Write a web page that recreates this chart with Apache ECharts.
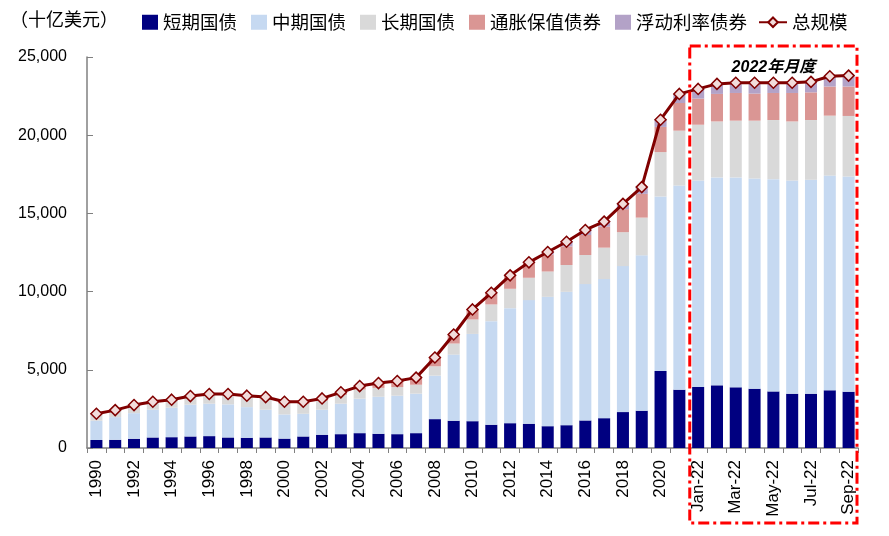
<!DOCTYPE html>
<html><head><meta charset="utf-8">
<script src="https://cdn.jsdelivr.net/npm/echarts@6/dist/echarts.min.js"></script>
<style>html,body{margin:0;padding:0;background:#fff}#c{width:889px;height:536px}</style>
</head><body><div id="c"></div>
<script>
var categories = ['1990','1991','1992','1993','1994','1995','1996','1997','1998','1999',
'2000','2001','2002','2003','2004','2005','2006','2007','2008','2009',
'2010','2011','2012','2013','2014','2015','2016','2017','2018','2019','2020','2021',
'Jan-22','Feb-22','Mar-22','Apr-22','May-22','Jun-22','Jul-22','Aug-22','Sep-22'];
var bills = [513,525,590,673,692,737,760,673,654,673,600,737,846,885,950,910,885,950,1846,1743,1718,1487,1590,1551,1397,1461,1763,1910,2295,2384,4920,3730,3900,4006,3880,3790,3620,3470,3470,3690,3600];
var notes = [1230,1449,1640,1776,1885,2033,2073,2117,1961,1776,1547,1453,1603,1948,2203,2370,2460,2524,2782,4231,5577,6622,7352,7904,8270,8526,8717,8890,9335,9936,11160,13050,13200,13294,13420,13440,13570,13630,13680,13730,13760];
var bonds = [447,449,514,511,513,550,617,627,663,708,698,635,583,561,584,563,551,570,596,706,923,1071,1238,1430,1618,1713,1860,2010,2170,2410,2840,3510,3570,3580,3630,3700,3780,3780,3820,3830,3870];
var tips = [0,0,0,0,0,0,0,33,67,99,115,135,138,166,223,307,384,456,566,576,642,743,858,945,1080,1190,1280,1340,1470,1520,1610,1770,1670,1760,1770,1730,1730,1820,1770,1860,1880];
var frn = [0,0,0,0,0,0,0,0,0,0,0,0,0,0,0,0,0,0,0,0,0,0,0,42,165,300,320,325,340,430,460,580,620,640,650,690,650,650,670,660,700];
var total = [2190,2423,2744,2960,3090,3320,3450,3450,3345,3256,2960,2960,3170,3560,3960,4150,4280,4500,5790,7256,8860,9923,11038,11872,12530,13190,13940,14475,15610,16680,20990,22640,22960,23280,23350,23350,23350,23350,23410,23770,23810];
var yTicks = [0,5000,10000,15000,20000,25000];
var names = ['短期国债','中期国债','长期国债','通胀保值债券','浮动利率债券','总规模'];
var colors = ['#000080','#C6D9F1','#D9D9D9','#DA9694','#B3A2C7','#800000'];

var chart = echarts.init(document.getElementById('c'));
function barSeries(i, data){
  return {name:names[i], type:'bar', stack:'s', data:data, barCategoryGap:'36%',
    itemStyle:{color:colors[i]}, emphasis:{disabled:true}};
}
var legendText = {fontSize:18.5,color:'#000',fontFamily:'Noto Sans CJK SC'};
var option = {
  animation:false,
  textStyle:{fontFamily:'Liberation Sans, Arial, sans-serif'},
  grid:{left:87,right:31,top:57,bottom:88},
  legend:[
    {left:137,top:8,itemWidth:16,itemHeight:15,itemGap:14,textStyle:legendText,
     data:names.slice(0,5).map(function(n){return {name:n,icon:'rect'};})},
    {left:753,top:8,itemWidth:28,itemHeight:12,itemGap:4,textStyle:legendText,data:[names[5]]}
  ],
  xAxis:{type:'category',data:categories,
    axisLine:{lineStyle:{color:'#808080',width:1.5}},
    axisTick:{show:true,interval:0,length:5,lineStyle:{color:'#808080'}},
    axisLabel:{interval:1,rotate:90,fontSize:17,color:'#000',margin:12,fontFamily:'Liberation Sans, Arial'}},
  yAxis:{type:'value',min:yTicks[0],max:yTicks[yTicks.length-1],interval:yTicks[1]-yTicks[0],
    axisLine:{show:true,lineStyle:{color:'#808080',width:1.5}},
    axisTick:{show:true,inside:true,length:6,lineStyle:{color:'#808080'}},
    splitLine:{show:false},
    axisLabel:{fontSize:16,color:'#000',margin:20,fontFamily:'Liberation Sans, Arial',
      formatter:function(v){return v.toLocaleString('en-US');}}},
  series:[barSeries(0,bills),barSeries(1,notes),barSeries(2,bonds),barSeries(3,tips),barSeries(4,frn),
    {name:names[5],type:'line',data:total,symbol:'diamond',symbolSize:11,
      lineStyle:{color:'#800000',width:3},
      itemStyle:{color:'#F2DCDB',borderColor:'#800000',borderWidth:1.5},z:5,emphasis:{disabled:true}}]
};
chart.setOption(option);

var xa = chart.convertToPixel({xAxisIndex:0},'Jan-22');
var xb = chart.convertToPixel({xAxisIndex:0},'Feb-22');
var xs = chart.convertToPixel({xAxisIndex:0},'Sep-22');
var band = xb - xa;
var y0 = chart.convertToPixel({yAxisIndex:0},0);
var yTop = chart.convertToPixel({yAxisIndex:0},25000);
var rx0 = xa - band/2 + 1, rx1 = xs + band/2 - 1;
var ry0 = yTop - 11, ry1 = y0 + 75;
chart.setOption({graphic:[
  {type:'text',left:10,top:10,style:{text:'（十亿美元）',fontSize:18,fill:'#000',fontFamily:'Noto Sans CJK SC'}},
  {type:'rect',shape:{x:rx0,y:ry0,width:rx1-rx0,height:ry1-ry0},z:100,
    style:{fill:'none',stroke:'#FF0000',lineWidth:3,lineDash:[11,4,3,4]}},
  {type:'text',x:(rx0+rx1)/2,y:yTop+11,z:100,style:{text:'2022年月度',fontSize:16,fontWeight:'bold',fontStyle:'italic',
    fill:'#000',align:'center',verticalAlign:'middle',fontFamily:'Liberation Sans, Noto Sans CJK SC'}}
]});
</script></body></html>
